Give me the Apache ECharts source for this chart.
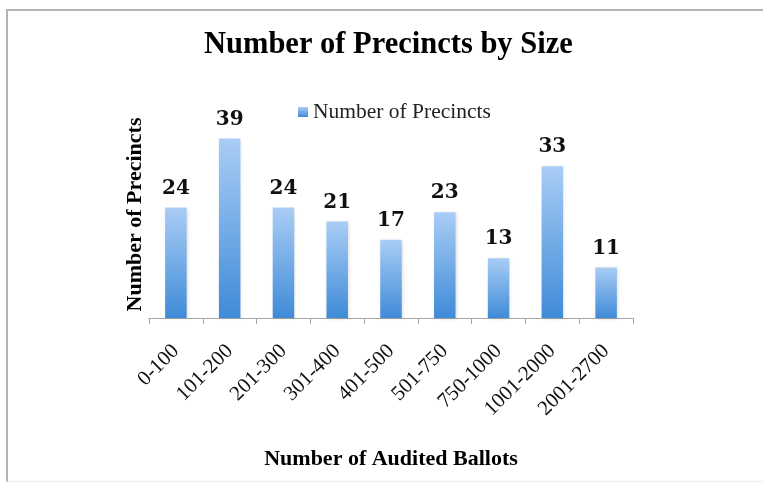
<!DOCTYPE html>
<html>
<head>
<meta charset="utf-8">
<script src="https://cdn.jsdelivr.net/npm/echarts@6/dist/echarts.min.js"></script>
<style>
  html, body { margin: 0; padding: 0; background: #fff; overflow: hidden; width: 763px; height: 483px; }
  #frame { position: absolute; left: 6px; top: 9px; width: 760px; height: 470px;
           border-left: 2px solid #b3b3b3; border-top: 2px solid #b3b3b3; border-bottom: 1px solid #eeeeee; }
  #chart { position: absolute; left: 0; top: 0; width: 763px; height: 483px; }
</style>
</head>
<body>
<div id="frame"></div>
<div id="chart"></div>
<script>
// Audited ballot ranges and how many precincts fall in each
const categories = ['0-100', '101-200', '201-300', '301-400', '401-500', '501-750', '750-1000', '1001-2000', '2001-2700'];
const precincts = [24, 39, 24, 21, 17, 23, 13, 33, 11];

const serif = '"Liberation Serif", "DejaVu Serif", serif';

const chart = echarts.init(document.getElementById('chart'));
chart.setOption({
  animation: false,
  title: {
    text: 'Number of Precincts by Size',
    left: 199,
    top: 25,
    textStyle: { fontFamily: serif, fontWeight: 'bold', fontSize: 30.5, color: '#000' }
  },
  legend: {
    data: ['Number of Precincts'],
    left: 293,
    top: 96,
    itemWidth: 10,
    itemHeight: 10,
    itemGap: 5,
    icon: 'rect',
    textStyle: { fontFamily: serif, fontSize: 21.5, color: '#222' }
  },
  grid: { left: 149, right: 130, top: 111, bottom: 165 },
  xAxis: {
    type: 'category',
    data: categories,
    name: 'Number of Audited Ballots',
    nameLocation: 'middle',
    nameGap: 130,
    nameTextStyle: { fontFamily: serif, fontWeight: 'bold', fontSize: 22, color: '#000' },
    axisLine: { lineStyle: { color: '#a6a6a6', width: 1 } },
    axisTick: { show: true, length: 6, alignWithLabel: false, lineStyle: { color: '#a6a6a6' } },
    axisLabel: { rotate: 45, margin: 30, fontFamily: serif, fontSize: 21, color: '#111' }
  },
  yAxis: {
    type: 'value',
    min: 0,
    max: 45,
    name: 'Number of Precincts',
    nameLocation: 'middle',
    nameGap: 3,
    nameTextStyle: { fontFamily: serif, fontWeight: 'bold', fontSize: 22, color: '#000' },
    axisLine: { show: false },
    axisTick: { show: false },
    axisLabel: { show: false },
    splitLine: { show: false }
  },
  series: [{
    name: 'Number of Precincts',
    type: 'bar',
    data: precincts,
    barWidth: '40%',
    itemStyle: {
      color: new echarts.graphic.LinearGradient(0, 0, 0, 1, [
        { offset: 0, color: '#a9cdf5' },
        { offset: 1, color: '#3f8bd8' }
      ]),
      shadowColor: 'rgba(0,0,0,0.12)',
      shadowBlur: 3,
      shadowOffsetX: 1,
      shadowOffsetY: 1
    },
    label: {
      show: true,
      position: 'top',
      distance: 9,
      fontFamily: '"DejaVu Serif", serif',
      fontWeight: 'bold',
      fontSize: 20,
      color: '#111'
    }
  }]
});
</script>
</body>
</html>
